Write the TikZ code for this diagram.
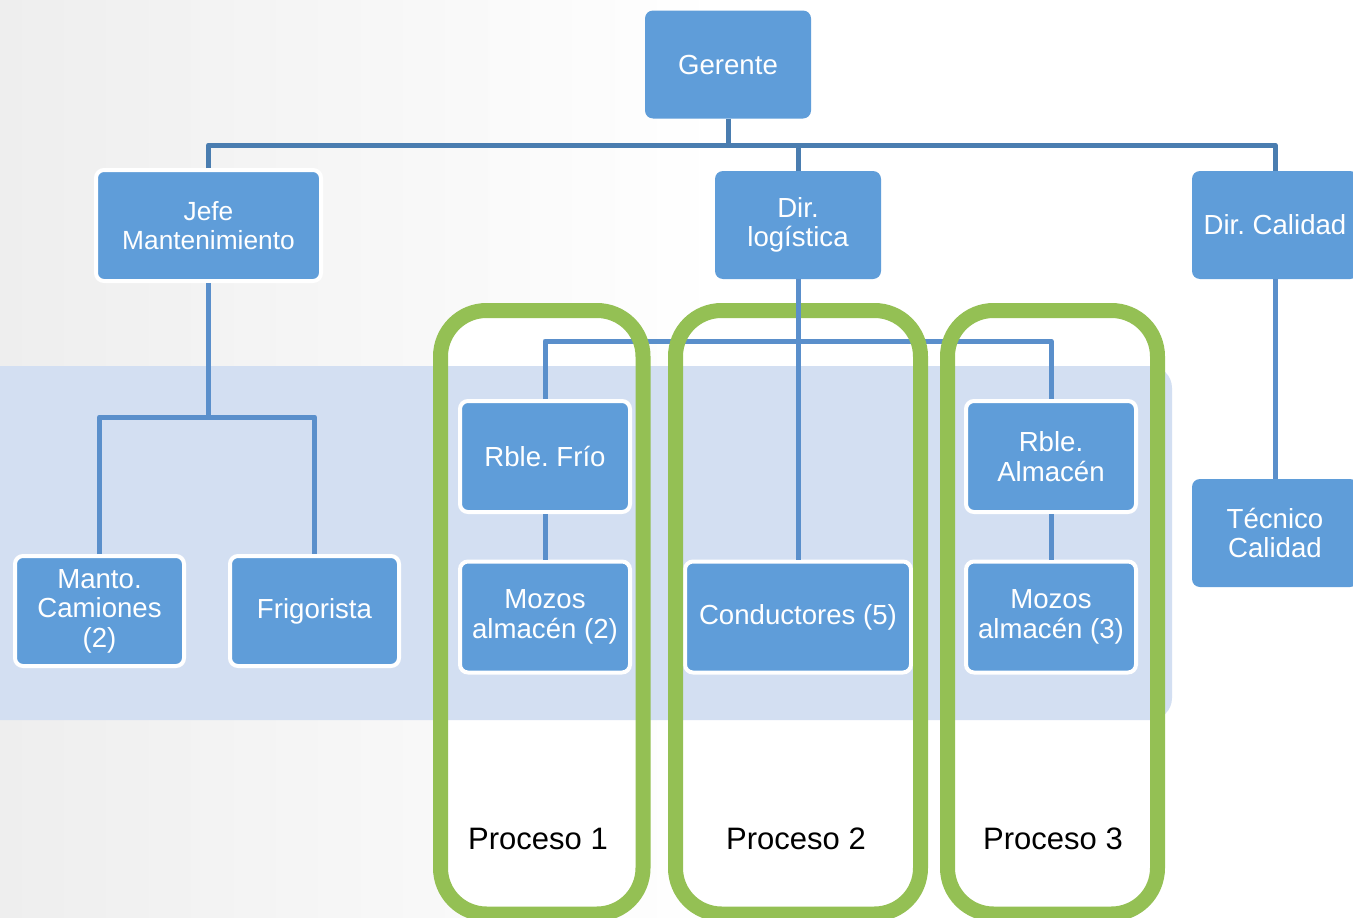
\documentclass[tikz,border=0pt]{standalone}
\usepackage{fontspec}
\setmainfont{Liberation Sans}
\frenchspacing
\definecolor{nodeblue}{HTML}{5F9DD9}
\definecolor{lineA}{HTML}{4A7DB0}
\definecolor{lineB}{HTML}{5A8FCB}
\definecolor{bandc}{HTML}{D3DFF2}
\definecolor{greenc}{HTML}{94C054}
\definecolor{bgg}{HTML}{EEEEEE}
\begin{document}
\begin{tikzpicture}[x=1pt,y=-1pt,
  box/.style={rectangle, rounded corners=8pt, fill=nodeblue, text=white, align=center,
    inner sep=0pt, font=\fontsize{27.6}{29.5}\selectfont, minimum width=166pt, minimum height=108pt},
  wbox/.style={box, draw=white, line width=4pt},
  conn/.style={draw=lineB, line width=5pt, line join=round},
  topconn/.style={draw=lineA, line width=5pt, line join=round},
  proc/.style={draw=greenc, line width=15pt, rounded corners=46pt},
  proclabel/.style={text=black, font=\fontsize{31}{34}\selectfont, inner sep=0pt}]
\useasboundingbox (0,0) rectangle (1353,918);
\clip (0,0) rectangle (1353,918);
% background
\shade[left color=bgg, right color=white] (0,0) rectangle (720,918);
\fill[white] (719,0) rectangle (1353,918);
% process boxes fill
\fill[white, rounded corners=46pt] (440.5,310.5) rectangle (643,914);
\fill[white, rounded corners=46pt] (675.5,310.5) rectangle (920.5,914);
\fill[white, rounded corners=46pt] (947.5,310.5) rectangle (1157.5,914);
% band
\fill[bandc, rounded corners=22pt] (-40,366) rectangle (1172,720);
% nodes
\node[box] (ger) at (728,64.5) {Gerente};
\node[wbox, minimum width=225pt, minimum height=111pt, font=\fontsize{26.3}{28.5}\selectfont] (jefe) at (208.5,225.5) {Jefe\\Mantenimiento};
\node[box] (dlog) at (798,225) {Dir.\\log\'istica};
\node[box] (dcal) at (1275,225) {Dir. Calidad};
\node[box] (tec) at (1275,533) {T\'ecnico\\Calidad};
\node[wbox, minimum width=169pt, minimum height=110pt] (manto) at (99.5,611) {Manto.\\Camiones\\(2)};
\node[wbox, minimum width=169pt, minimum height=110pt] (frig) at (314.5,611) {Frigorista};
\node[wbox, minimum width=170pt, minimum height=111pt] (rfrio) at (545,456.5) {Rble. Fr\'io};
\node[wbox, minimum width=170pt, minimum height=111pt] (moz2) at (545,617) {Mozos\\almac\'en (2)};
\node[wbox, minimum width=226pt, minimum height=111pt] (cond) at (798,617) {Conductores (5)};
\node[wbox, minimum width=170pt, minimum height=111pt] (ralm) at (1051,456.5) {Rble.\\Almac\'en};
\node[wbox, minimum width=170pt, minimum height=111pt] (moz3) at (1051,617) {Mozos\\almac\'en (3)};
% bar coordinates
\coordinate (bar1) at (0,145);
\coordinate (bar2) at (0,417);
\coordinate (bar3) at (0,341);
% connectors
\draw[topconn] (ger.south) -- (ger.south |- bar1);
\draw[topconn] (jefe.north) -- (jefe.north |- bar1) -- (dcal.north |- bar1) -- (dcal.north);
\draw[topconn] (dlog.north) -- (dlog.north |- bar1);
\draw[conn] (jefe.south) -- (jefe.south |- bar2);
\draw[conn] (manto.north) -- (manto.north |- bar2) -- (frig.north |- bar2) -- (frig.north);
\draw[conn] (rfrio.north) -- (rfrio.north |- bar3) -- (ralm.north |- bar3) -- (ralm.north);
\draw[conn] (rfrio.south) -- (moz2.north);
\draw[conn] (ralm.south) -- (moz3.north);
\draw[conn] (dcal.south) -- (tec.north);
% process outlines
\draw[proc] (440.5,310.5) rectangle (643,914);
\draw[proc] (675.5,310.5) rectangle (920.5,914);
\draw[proc] (947.5,310.5) rectangle (1157.5,914);
\draw[conn] (dlog.south) -- (cond.north);
% labels
\node[proclabel] (p1) at (538,839) {Proceso 1};
\node[proclabel] (p2) at (796,839) {Proceso 2};
\node[proclabel] (p3) at (1053,839) {Proceso 3};
\end{tikzpicture}
\end{document}
